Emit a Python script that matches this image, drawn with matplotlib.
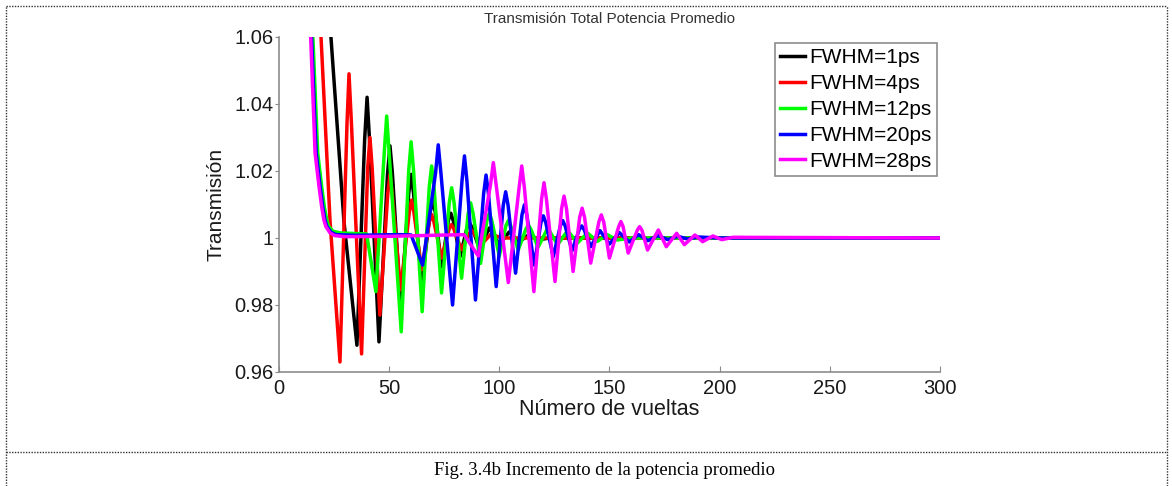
import matplotlib
matplotlib.use("Agg")
import matplotlib.pyplot as plt
from matplotlib.lines import Line2D

plt.rcParams['font.family'] = ['Liberation Sans', 'DejaVu Sans']

# values (peaks with their shoulders, troughs, plateaus)
black_x = [23.0, 23.6, 29.5, 35.4, 38.9, 40.0, 41.1, 45.4, 49.3, 50.4, 51.5, 55.3, 58.9, 60.0,
           61.1, 64.8, 68.7, 69.8, 70.9, 73.8, 76.9, 78.0, 79.1, 82.2, 85.4, 86.5, 87.6, 91.0,
           95.5, 100.0, 104.5, 109.0, 113.5, 118.0, 123.0, 300.0]
black_y = [1.064, 1.06, 1.005, 0.968, 1.0294, 1.042, 1.0294, 0.969, 1.0193, 1.0275, 1.0193,
           0.979, 1.0133, 1.019, 1.0133, 0.9866, 1.0079, 1.0113, 1.0079, 0.9914, 1.0052, 1.0074,
           1.0052, 0.9944, 1.0032, 1.0045, 1.0032, 0.9968, 1.003, 0.998, 1.0018, 0.9988, 1.001,
           0.9995, 1.0, 1.0]

red_x = [18.7, 19.1, 23.2, 27.7, 30.9, 31.8, 32.9, 37.5, 40.3, 41.3, 42.3, 45.8, 49.4, 50.4,
         51.4, 55.2, 59.2, 60.2, 61.2, 64.8, 68.3, 69.3, 70.3, 73.8, 77.3, 78.3, 79.3, 82.8,
         87.3, 91.8, 96.3, 101.0, 300.0]
red_y = [1.064, 1.06, 1.005, 0.963, 1.0343, 1.049, 1.0343, 0.9654, 1.021, 1.030, 1.021, 0.977,
         1.0133, 1.019, 1.0133, 0.9845, 1.0079, 1.0113, 1.0079, 0.9905, 1.0049, 1.007, 1.0049,
         0.994, 1.0028, 1.004, 1.0028, 0.9965, 1.0025, 0.998, 1.0012, 1.0, 1.0]

green_x = [14.8, 15.4, 17.6, 19.4, 20.6, 21.7, 22.6, 24.6, 28.0, 39.8, 44.0, 47.8, 48.9, 50.0,
           55.5, 58.9, 60.0, 61.1, 65.0, 68.2, 69.3, 70.4, 73.8, 77.3, 78.4, 79.5, 82.9, 85.9,
           87.0, 88.1, 91.5, 94.4, 95.5, 96.6, 100.0, 103.0, 104.1, 105.2, 108.6, 112.1, 113.2,
           114.3, 117.6, 122.0, 126.5, 131.0, 135.5, 140.0, 144.5, 149.0, 153.5, 160.0, 300.0]
green_y = [1.075, 1.06, 1.0254, 1.0153, 1.0093, 1.0054, 1.0034, 1.002, 1.0015, 1.0012, 0.984,
           1.0255, 1.0364, 1.0255, 0.972, 1.0201, 1.0287, 1.0201, 0.978, 1.0151, 1.0215, 1.0151,
           0.9836, 1.0105, 1.015, 1.0105, 0.988, 1.0074, 1.0105, 1.0074, 0.9924, 1.0052, 1.0074,
           1.0052, 0.9946, 1.0036, 1.0052, 1.0036, 0.9964, 1.0027, 1.0039, 1.0027, 0.9972, 1.003,
           0.998, 1.0022, 0.9985, 1.0015, 0.999, 1.001, 0.9994, 1.0, 1.0]

blue_x = [14.2, 14.8, 16.9, 18.7, 19.9, 20.9, 21.8, 23.7, 26.0, 35.0, 45.0, 55.0, 60.0, 65.2,
          71.1, 72.3, 73.5, 78.8, 83.1, 84.2, 85.3, 89.2, 92.9, 94.0, 95.1, 98.6, 101.8, 102.9,
          104.0, 107.4, 110.3, 111.4, 112.5, 115.9, 118.9, 120.0, 121.1, 124.5, 127.7, 128.8,
          129.9, 133.0, 136.3, 137.4, 138.5, 141.5, 145.7, 150.0, 154.5, 159.0, 163.2, 167.5,
          172.0, 176.5, 181.0, 185.5, 190.0, 200.0, 300.0]
blue_y = [1.075, 1.06, 1.0254, 1.0153, 1.0093, 1.0054, 1.0034, 1.0017, 1.001, 1.0008, 1.0009,
          1.001, 1.0009, 0.9919, 1.0195, 1.0278, 1.0195, 0.98, 1.0172, 1.0245, 1.0172, 0.9815,
          1.0132, 1.0188, 1.0132, 0.9855, 1.0097, 1.0138, 1.0097, 0.9895, 1.0069, 1.0099, 1.0069,
          0.9919, 1.0046, 1.0066, 1.0046, 0.9944, 1.0036, 1.0052, 1.0036, 0.9962, 1.0025, 1.0036,
          1.0025, 0.9974, 1.0022, 0.9982, 1.0016, 0.9988, 1.001, 0.9992, 1.0007, 0.9995, 1.0005,
          0.9997, 1.0003, 1.0, 1.0]

mag_x = [13.8, 14.4, 16.4, 18.2, 19.4, 20.4, 21.3, 23.2, 25.4, 30.0, 50.0, 70.0, 84.0, 90.5,
         96.0, 97.3, 98.6, 104.1, 109.0, 110.2, 111.4, 115.7, 119.2, 120.3, 121.4, 125.3, 128.3,
         129.4, 130.5, 133.5, 136.5, 137.6, 138.7, 141.5, 145.2, 146.3, 147.4, 150.0, 154.2,
         155.2, 156.2, 158.5, 162.7, 163.7, 164.7, 167.3, 172.2, 175.8, 180.5, 184.0, 188.8,
         192.3, 197.0, 201.0, 206.0, 300.0]
mag_y = [1.075, 1.06, 1.0254, 1.0153, 1.0093, 1.0054, 1.0034, 1.0015, 1.0007, 1.0004, 1.0005,
         1.0008, 1.001, 0.9946, 1.0158, 1.0225, 1.0158, 0.9867, 1.015, 1.0215, 1.015, 0.984,
         1.0116, 1.0165, 1.0116, 0.987, 1.0088, 1.0125, 1.0088, 0.990, 1.0062, 1.0089, 1.0062,
         0.9925, 1.0048, 1.0069, 1.0048, 0.994, 1.0034, 1.0049, 1.0034, 0.9955, 1.0024, 1.0034,
         1.0024, 0.9964, 1.0024, 0.9974, 1.0014, 0.998, 1.0009, 0.9989, 1.0006, 0.9995, 1.0002,
         1.0]

labels = ["FWHM=1ps", "FWHM=4ps", "FWHM=12ps", "FWHM=20ps", "FWHM=28ps"]
colors = ["#000000", "#ff0000", "#00ff00", "#0000ff", "#ff00ff"]
xticks = [0, 50, 100, 150, 200, 250, 300]
yticks = [0.96, 0.98, 1.0, 1.02, 1.04, 1.06]
ytick_labels = ["0.96", "0.98", "1", "1.02", "1.04", "1.06"]

fig = plt.figure(figsize=(11.72, 4.86), dpi=100)
ax = fig.add_axes([0.238, 0.2346, 0.564, 0.6893])

series = [(black_x, black_y), (red_x, red_y), (green_x, green_y), (blue_x, blue_y), (mag_x, mag_y)]
for (xs, ys), lab, col in zip(series, labels, colors):
    ax.plot(xs, ys, color=col, lw=2.5, label=lab)

ax.set_xlim(0, 300)
ax.set_ylim(0.96, 1.06)
ax.set_xticks(xticks)
ax.set_yticks(yticks)
ax.set_yticklabels(ytick_labels)

for s in ["top", "right"]:
    ax.spines[s].set_visible(False)
for s in ["left", "bottom"]:
    ax.spines[s].set_color("#8c8c8c")
    ax.spines[s].set_linewidth(1.2)

ax.tick_params(axis="x", direction="in", length=4, color="#8c8c8c", labelsize=14.5, pad=5,
               labelcolor="#1a1a1a")
ax.tick_params(axis="y", direction="out", length=3, color="#8c8c8c", labelsize=14.5, pad=1,
               labelcolor="#1a1a1a")

ax.set_xlabel("Número de vueltas", fontsize=15.5, labelpad=1, color="#1a1a1a")
ax.set_ylabel("Transmisión", fontsize=15, labelpad=6, color="#1a1a1a")
ax.set_title("Transmisión Total Potencia Promedio", fontsize=11, pad=10, color="#333333")

leg = ax.legend(loc="upper right", bbox_to_anchor=(0.995, 0.982), borderaxespad=0,
                fontsize=15, handlelength=1.2, handletextpad=0.2, labelspacing=0.33,
                borderpad=0.25, fancybox=False, framealpha=1)
leg.get_frame().set_edgecolor("#8c8c8c")
leg.get_frame().set_linewidth(1.2)

# dotted table border around the figure and the caption
dot = dict(color="#333333", lw=1.0, linestyle=(0, (1, 1)))
fig.add_artist(Line2D([0.0051, 0.9957], [0.9877, 0.9877], **dot))
fig.add_artist(Line2D([0.0051, 0.0051], [0.0, 0.9877], **dot))
fig.add_artist(Line2D([0.9957, 0.9957], [0.0, 0.9877], **dot))
fig.add_artist(Line2D([0.0051, 0.9957], [0.070, 0.070], **dot))

fig.text(0.516, 0.031, "Fig. 3.4b Incremento de la potencia promedio", ha="center", va="center",
         fontsize=13.4, family="Liberation Serif")

fig.savefig("out.png", dpi=100)
